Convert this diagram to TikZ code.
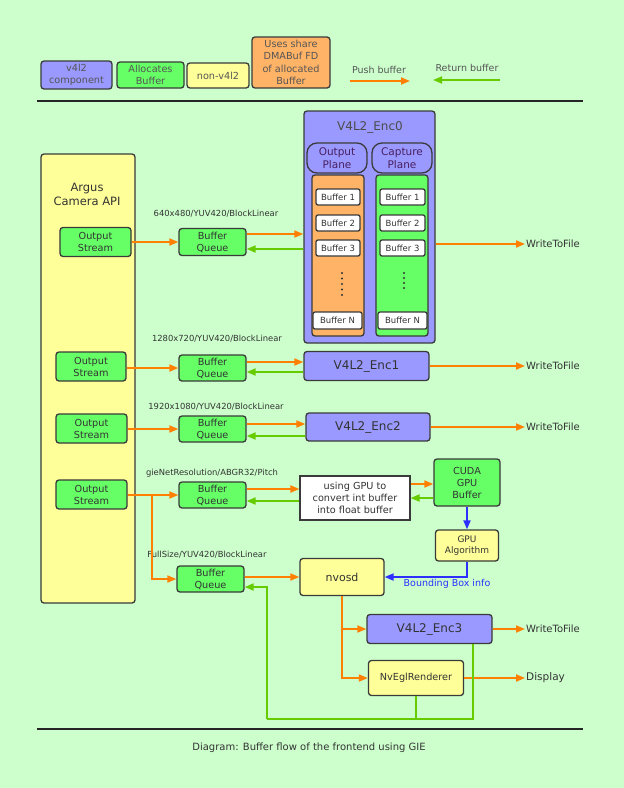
\documentclass[tikz,border=0pt]{standalone}
\usepackage{fontspec}
\setmainfont{DejaVu Sans}
\usetikzlibrary{arrows.meta,calc}
\definecolor{bg}{HTML}{CCFFCC}
\definecolor{lav}{HTML}{9999FF}
\definecolor{grn}{HTML}{66FF66}
\definecolor{yel}{HTML}{FFFF99}
\definecolor{org}{HTML}{FFB366}
\definecolor{bord}{HTML}{3A3A3A}
\definecolor{txt}{HTML}{333333}
\definecolor{ltxt}{HTML}{555555}
\definecolor{pushc}{HTML}{FF8000}
\definecolor{retc}{HTML}{66CC00}
\definecolor{bluc}{HTML}{2E2EFF}
\definecolor{plt}{HTML}{4A1F5F}
\tikzset{
  bx/.style={draw=bord, line width=1.3pt, rounded corners=3pt, inner sep=0pt, align=center, text=txt, font=\fontsize{9.7}{12}\selectfont},
  lav/.style={bx, fill=lav},
  grn/.style={bx, fill=grn},
  yel/.style={bx, fill=yel},
  org/.style={bx, fill=org},
  sz/.style 2 args={minimum width=#1pt, minimum height=#2pt},
  arrtip/.style={-{Triangle[length=9pt,width=7pt]}},
  push/.style={draw=pushc, line width=1.8pt, arrtip},
  ret/.style={draw=retc, line width=1.8pt, arrtip},
  retline/.style={draw=retc, line width=1.8pt},
  blu/.style={draw=bluc, line width=1.8pt, arrtip},
  lbl/.style={font=\fontsize{8.4}{10}\selectfont, text=txt, inner sep=0pt},
  buf/.style={bx, fill=white, rounded corners=2pt, font=\fontsize{8.5}{10}\selectfont},
  outtxt/.style={font=\fontsize{10}{12}\selectfont, text=txt, inner sep=1pt, anchor=west},
  pln/.style={bx, fill=lav, rounded corners=10pt, text=plt, font=\fontsize{10.5}{13}\selectfont},
}
\begin{document}
\begin{tikzpicture}[x=1pt,y=-1pt]
\useasboundingbox (0,0) rectangle (624,788);
\fill[bg] (0,0) rectangle (624,788);

% legend
\node[lav, sz={71}{28}, text=ltxt] (L1) at (76.5,75) {v4l2\\component};
\node[grn, sz={67}{26}, text=ltxt] (L2) at (150.5,75) {Allocates\\Buffer};
\node[yel, sz={62}{25}, text=ltxt] (L3) at (218,75.5) {non-v4l2};
\node[org, sz={78}{51}, text=ltxt, font=\fontsize{9.7}{12.5}\selectfont] (L4) at (291,62.5) {Uses share\\DMABuf FD\\of allocated\\Buffer};
\node[lbl, font=\fontsize{9.5}{11}\selectfont, text=ltxt] (Lp) at (379,70) {Push buffer};
\node[lbl, font=\fontsize{9.5}{11}\selectfont, text=ltxt] (Lr) at (467,68) {Return buffer};
\coordinate (pa) at (350,81);
\coordinate (pb) at (410,81);
\coordinate (ra) at (500,80);
\coordinate (rb) at (433,80);
\draw[push] (pa) -- (pb);
\draw[ret] (ra) -- (rb);
\coordinate (t1) at (37,101);
\coordinate (t2) at (583,101);
\draw[line width=1.5pt, black!85] (t1) -- (t2);

% Argus
\node[yel, sz={94}{449}] (Argus) at (88,378.5) {};
\node[lbl, font=\fontsize{11.5}{14}\selectfont, align=center] (ArgT) at (87,194) {Argus\\Camera API};

\node[grn, sz={71}{29}] (OS1) at (95.5,242) {Output\\Stream};
\node[grn, sz={70}{29}] (OS2) at (91,366.5) {Output\\Stream};
\node[grn, sz={71}{29}] (OS3) at (91.5,428.5) {Output\\Stream};
\node[grn, sz={71}{29}] (OS4) at (91.5,494.5) {Output\\Stream};

\node[grn, sz={67}{27}] (BQ1) at (212.5,242) {Buffer\\Queue};
\node[grn, sz={67}{26}] (BQ2) at (212.5,368) {Buffer\\Queue};
\node[grn, sz={67}{26}] (BQ3) at (212.5,429) {Buffer\\Queue};
\node[grn, sz={67}{26}] (BQ4) at (212.5,495) {Buffer\\Queue};
\node[grn, sz={67}{26}] (BQ5) at (210.5,579) {Buffer\\Queue};

\node[lbl] (lb1) at (216,214) {640x480/YUV420/BlockLinear};
\node[lbl] (lb2) at (217,339) {1280x720/YUV420/BlockLinear};
\node[lbl] (lb3) at (216,407) {1920x1080/YUV420/BlockLinear};
\node[lbl] (lb4) at (212,473) {gieNetResolution/ABGR32/Pitch};
\node[lbl] (lb5) at (207,555) {FullSize/YUV420/BlockLinear};

% Enc0
\node[lav, sz={131}{232}] (Enc0) at (369.5,227) {};
\node[lbl, font=\fontsize{12}{14}\selectfont, text=ltxt!90!black] (Enc0T) at (370,127) {V4L2\_Enc0};
\node[pln, sz={60}{30}] (OP) at (337,158) {Output\\Plane};
\node[pln, sz={60}{30}] (CP) at (402,158) {Capture\\Plane};
\node[org, sz={52}{161}] (OC) at (338,255.5) {};
\node[grn, sz={52}{161}] (GC) at (402,255.5) {};
\node[buf, sz={44}{16}] (ob1) at (338,197) {Buffer 1};
\node[buf, sz={44}{16}] (ob2) at (338,223) {Buffer 2};
\node[buf, sz={44}{16}] (ob3) at (338,248) {Buffer 3};
\node[buf, sz={49}{17}] (obn) at (337.5,320.5) {Buffer N};
\node[buf, sz={45}{16}] (gb1) at (402.5,197) {Buffer 1};
\node[buf, sz={45}{16}] (gb2) at (402.5,223) {Buffer 2};
\node[buf, sz={45}{16}] (gb3) at (402.5,248) {Buffer 3};
\node[buf, sz={49}{17}] (gbn) at (402.5,320.5) {Buffer N};
\foreach \yy in {273,278.5,284,289.5,295} \fill[black!80] (342,\yy) circle (1.2);
\foreach \yy in {273,278,283,288} \fill[black!80] (404,\yy) circle (1.2);

\node[lav, sz={125}{29}, font=\fontsize{12}{14}\selectfont] (Enc1) at (366.5,366) {V4L2\_Enc1};
\node[lav, sz={124}{28}, font=\fontsize{12}{14}\selectfont] (Enc2) at (368,427) {V4L2\_Enc2};
\node[bx, fill=white, rounded corners=0pt, line width=1.1pt, sz={110}{44}] (Conv) at (355,498) {using GPU to\\convert int buffer\\into float buffer};
\node[grn, sz={66}{47}] (CUDA) at (467,482.5) {CUDA\\GPU\\Buffer};
\node[yel, sz={63}{31}, font=\fontsize{9}{11.5}\selectfont] (GPUA) at (467,545.5) {GPU\\Algorithm};
\node[yel, sz={84}{37}, font=\fontsize{11}{13}\selectfont] (nvosd) at (342,577) {nvosd};
\node[lav, sz={125}{29}, font=\fontsize{12}{14}\selectfont] (Enc3) at (429.5,629) {V4L2\_Enc3};
\node[yel, sz={95}{35}] (NvEgl) at (416,678) {NvEglRenderer};

\node[outtxt] (W0) at (525,244) {WriteToFile};
\node[outtxt] (W1) at (525,366) {WriteToFile};
\node[outtxt] (W2) at (525,427) {WriteToFile};
\node[outtxt] (W3) at (525,629) {WriteToFile};
\node[outtxt, font=\fontsize{10.5}{12}\selectfont] (Disp) at (525,678) {Display};
\node[lbl, text=bluc, font=\fontsize{9.5}{11}\selectfont] (BB) at (447,584) {Bounding Box info};

% connectors
\draw[push] (OS1.east |- BQ1.west) -- (BQ1.west);
\draw[push] (OS2.east |- BQ2.west) -- (BQ2.west);
\draw[push] (OS3.east |- BQ3.west) -- (BQ3.west);
\draw[push] (OS4.east |- BQ4.west) -- (BQ4.west);
\coordinate (br) at (152,495);
\draw[push] (br) |- (BQ5.west);

\draw[push] ([yshift=8pt]BQ1.east) -- ([yshift=8pt]BQ1.east -| Enc0.west);
\draw[ret] ([yshift=-7pt]BQ1.east -| Enc0.west) -- ([yshift=-7pt]BQ1.east);
\draw[push] ([yshift=6pt]BQ2.east) -- ([yshift=6pt]BQ2.east -| Enc1.west);
\draw[ret] ([yshift=-4pt]BQ2.east -| Enc1.west) -- ([yshift=-4pt]BQ2.east);
\draw[push] ([yshift=5pt]BQ3.east) -- ([yshift=5pt]BQ3.east -| Enc2.west);
\draw[ret] ([yshift=-7pt]BQ3.east -| Enc2.west) -- ([yshift=-7pt]BQ3.east);
\draw[push] ([yshift=6pt]BQ4.east) -- ([yshift=6pt]BQ4.east -| Conv.west);
\draw[ret] ([yshift=-6pt]BQ4.east -| Conv.west) -- ([yshift=-6pt]BQ4.east);
\draw[push] ([yshift=-1.5pt]CUDA.west -| Conv.east) -- ([yshift=-1.5pt]CUDA.west);
\draw[ret] (CUDA.west |- Conv.east) -- (Conv.east);
\draw[blu] (CUDA.south) -- (GPUA.north);
\draw[blu] (GPUA.south) |- (nvosd.east);
\draw[push] (BQ5.east |- nvosd.west) -- (nvosd.west);
\draw[push] (nvosd.south) |- (NvEgl.west);
\draw[push] (nvosd.south |- Enc3.west) -- (Enc3.west);

\draw[push] (Enc0.east |- W0.west) -- (W0.west);
\draw[push] (Enc1.east |- W1.west) -- (W1.west);
\draw[push] (Enc2.east |- W2.west) -- (W2.west);
\draw[push] (Enc3.east) -- (W3.west);
\draw[push] (NvEgl.east) -- (Disp.west);

\coordinate (gl) at (267,719);
\draw[retline] ([xshift=-20pt]Enc3.south east) |- (gl);
\draw[retline] (NvEgl.south) -- (NvEgl.south |- gl);
\draw[ret] (gl) |- ([yshift=-8pt]BQ5.east);

\coordinate (b1) at (37,729);
\coordinate (b2) at (583,729);
\draw[line width=1.5pt, black!85] (b1) -- (b2);
\node[lbl, font=\fontsize{10}{12}\selectfont] (cap) at (309,748) {Diagram: Buffer flow of the frontend using GIE};
\end{tikzpicture}
\end{document}
